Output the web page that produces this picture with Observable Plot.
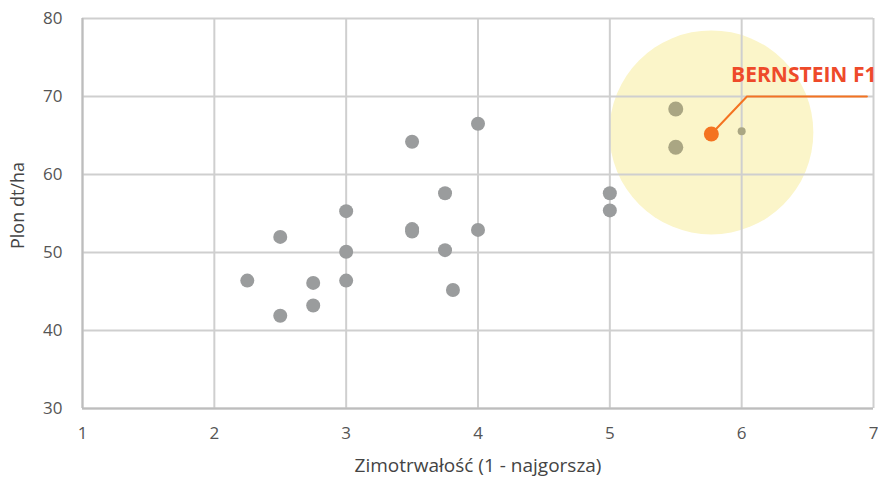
<!DOCTYPE html>
<html>
<head>
<meta charset="utf-8">
<script src="https://cdn.jsdelivr.net/npm/d3@7"></script>
<script src="https://cdn.jsdelivr.net/npm/@observablehq/plot@0.6"></script>
<style>
  html, body { margin: 0; padding: 0; background: #fff; }
  #chart { width: 878px; height: 477px; }
</style>
</head>
<body>
<div id="chart"></div>
<script>
// Categories / tick labels
const xTicks = [1, 2, 3, 4, 5, 6, 7];
const yTicks = [30, 40, 50, 60, 70, 80];
const xLabel = ["Zimotrwałość (1 - najgorsza)"];
const yLabel = ["Plon dt/ha"];

// Other varieties (grey)
const greyX = [2.25, 2.5, 2.5, 2.75, 2.75, 3, 3, 3, 3.5, 3.5, 3.5, 3.75, 3.75, 3.81, 4, 4, 5, 5];
const greyY = [46.4, 52.0, 41.9, 46.1, 43.2, 55.3, 50.1, 46.4, 64.2, 53.0, 52.7, 57.6, 50.3, 45.2, 66.5, 52.9, 57.6, 55.4];

// Varieties in highlighted zone
const zoneX = [5.5, 5.5];
const zoneY = [68.4, 63.5];
const smallX = [6.0];
const smallY = [65.55];

// Highlighted variety
const hlName = ["BERNSTEIN F1"];
const hlX = [5.77];
const hlY = [65.2];

// Highlight zone centre
const zoneCX = [5.77];
const zoneCY = [65.4];

// Leader line path
const leadX = [5.77, 6.04, 6.95];
const leadY = [65.2, 70, 70];
const labelX = [5.92];
const labelY = [70];

const grey = greyX.map((x, i) => ({x, y: greyY[i]}));
const zone = zoneX.map((x, i) => ({x, y: zoneY[i]}));
const small = smallX.map((x, i) => ({x, y: smallY[i]}));
const hl = hlX.map((x, i) => ({x, y: hlY[i], name: hlName[i]}));
const centre = zoneCX.map((x, i) => ({x, y: zoneCY[i]}));
const lead = leadX.map((x, i) => ({x, y: leadY[i]}));
const label = labelX.map((x, i) => ({x, y: labelY[i], name: hlName[i]}));

const font = "'Open Sans', 'Noto Sans', sans-serif";

const chart = Plot.plot({
  width: 878,
  height: 477,
  marginLeft: 82,
  marginRight: 5,
  marginTop: 18,
  marginBottom: 69,
  style: {fontFamily: font, fontSize: "16px", color: "#555", background: "#fff", overflow: "visible"},
  x: {domain: [1, 7], ticks: xTicks},
  y: {domain: [30, 80], ticks: yTicks},
  marks: [
    Plot.dot(centre, {x: "x", y: "y", r: 102, fill: "#fbf5c9", stroke: "none"}),
    Plot.gridX(xTicks, {stroke: "#cfcfcf", strokeOpacity: 1, strokeWidth: 2}),
    Plot.gridY(yTicks, {stroke: "#cfcfcf", strokeOpacity: 1, strokeWidth: 2}),
    Plot.ruleX([1], {stroke: "#bdbdbd", strokeWidth: 2}),
    Plot.ruleY([30], {stroke: "#bdbdbd", strokeWidth: 2}),
    Plot.axisX({ticks: xTicks, tickFormat: "d", tickSize: 0, tickPadding: 18, fontSize: 17, label: null, fill: "#555"}),
    Plot.axisY({ticks: yTicks, tickFormat: "d", tickSize: 0, tickPadding: 20, fontSize: 17, label: null, fill: "#555"}),
    Plot.text(xLabel, {frameAnchor: "bottom", dy: 57, fontSize: 19, fill: "#444", textAnchor: "middle", lineAnchor: "middle"}),
    Plot.text(yLabel, {frameAnchor: "left", rotate: -90, dx: -64, dy: -8, fontSize: 18, fill: "#444", textAnchor: "middle", lineAnchor: "middle"}),
    Plot.dot(grey, {x: "x", y: "y", r: 7, fill: "#9a9c9d"}),
    Plot.dot(zone, {x: "x", y: "y", r: 7.5, fill: "#aaa683"}),
    Plot.dot(small, {x: "x", y: "y", r: 4, fill: "#aaa683"}),
    Plot.line(lead, {x: "x", y: "y", stroke: "#f47321", strokeWidth: 2}),
    Plot.dot(hl, {x: "x", y: "y", r: 7.5, fill: "#f47321"}),
    Plot.text(label, {x: "x", y: "y", text: "name", textAnchor: "start", dy: -21, fontSize: 21, fontWeight: "bold", fill: "#ee4a2a"})
  ]
});
document.getElementById("chart").appendChild(chart);
</script>
</body>
</html>
